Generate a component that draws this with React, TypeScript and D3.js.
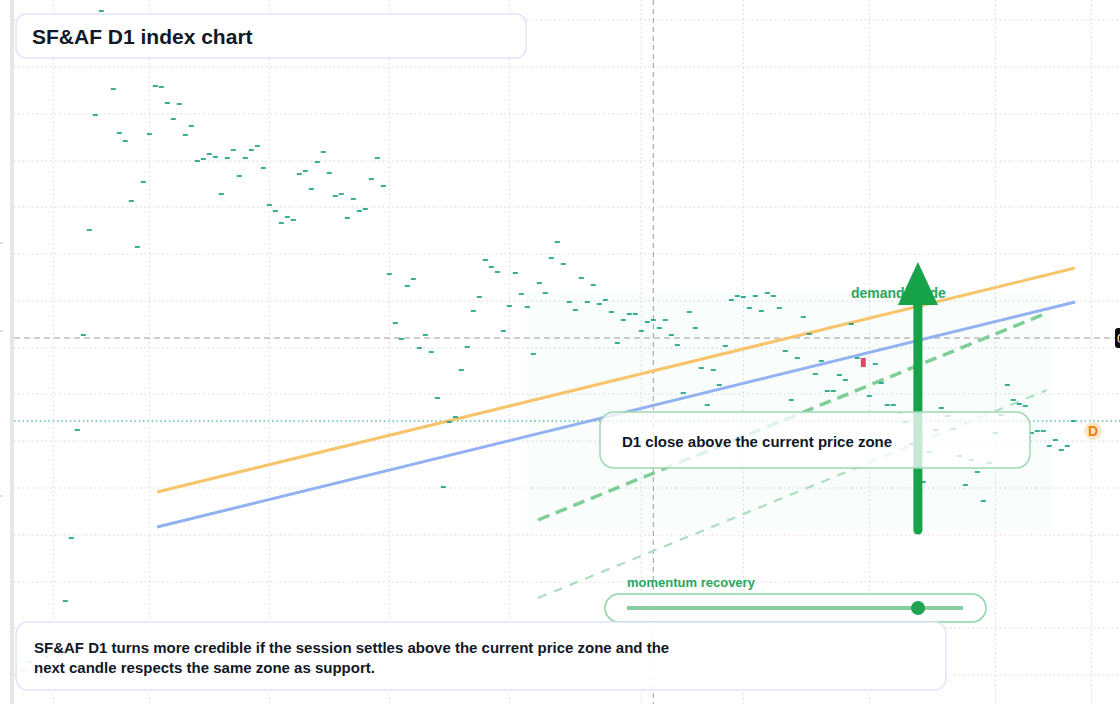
import React from "react";
import * as d3 from "d3";

// ---- data ----
const closes: number[] = [
  0.530, 0.538, 0.552, 0.524, 0.543, 0.535, 0.546, 0.599, 0.662, 0.770,
  0.865, 0.970, 1.085, 1.189, 1.160, 1.111, 1.067, 1.059, 0.999, 0.953,
  1.018, 1.066, 1.114, 1.113, 1.097, 1.081, 1.096, 1.065, 1.074, 1.039,
  1.041, 1.046, 1.043, 1.006, 1.042, 1.050, 1.024, 1.042, 1.050, 1.054,
  1.032, 0.995, 0.989, 0.977, 0.983, 0.980, 1.026, 1.029, 1.011, 1.038,
  1.048, 1.027, 1.004, 1.006, 0.982, 1.001, 0.989, 0.991, 1.021, 1.042,
  1.014, 0.926, 0.877, 0.861, 0.914, 0.921, 0.852, 0.865, 0.848, 0.802,
  0.713, 0.778, 0.783, 0.830, 0.853, 0.889, 0.903, 0.940, 0.933, 0.928,
  0.869, 0.894, 0.927, 0.906, 0.893, 0.846, 0.917, 0.907, 0.942, 0.958,
  0.936, 0.898, 0.890, 0.922, 0.898, 0.915, 0.896, 0.900, 0.888, 0.857,
  0.880, 0.886, 0.886, 0.869, 0.878, 0.880, 0.872, 0.880, 0.865, 0.855,
  0.807, 0.888, 0.872, 0.832, 0.795, 0.830, 0.815, 0.854, 0.900, 0.904,
  0.903, 0.892, 0.904, 0.889, 0.907, 0.904, 0.892, 0.849, 0.800, 0.842,
  0.883, 0.866, 0.826, 0.839, 0.809, 0.809, 0.825, 0.820, 0.876, 0.842,
  0.833, 0.804, 0.836, 0.817, 0.795, 0.795, 0.787, 0.778, 0.756, 0.760,
  0.718, 0.748, 0.770, 0.792, 0.784, 0.771, 0.744, 0.715, 0.740, 0.728,
  0.699, 0.737, 0.767, 0.785, 0.815, 0.800, 0.796, 0.794, 0.767, 0.769,
  0.769, 0.754, 0.760, 0.750, 0.754, 0.779,
];
const bearIndex = 140;
const bearOpen = 0.842;

const gridPrices: number[] = [1.180, 1.133, 1.086, 1.039, 0.993, 0.946, 0.899, 0.852, 0.806, 0.759, 0.712, 0.665, 0.618, 0.572, 0.525];
const gridIndices: number[] = [5, 21, 41, 61, 81, 103, 120, 141, 162, 178];
const axisTickPrices: number[] = [0.957, 0.869, 0.704];

const orangeLine = [{ i: 22.3, p: 0.708 }, { i: 175.3, p: 0.932 }];
const blueLine = [{ i: 22.3, p: 0.673 }, { i: 175.3, p: 0.898 }];
const greenDash = [{ i: 85.8, p: 0.680 }, { i: 170.6, p: 0.887 }];
const lightDash = [{ i: 85.8, p: 0.602 }, { i: 170.6, p: 0.810 }];
const zone = { i0: 83.9, i1: 171.4, p0: 0.908, p1: 0.668 };
const arrowGuide = { i: 149.1, from: 0.670, to: 0.938 };
const crosshair = { i: 105, p: 0.862 };
const lastPrice = 0.779;

const titleText = "SF&AF D1 index chart";
const noteLines = [
  "SF&AF D1 turns more credible if the session settles above the current price zone and the",
  "next candle respects the same zone as support.",
];
const calloutText = "D1 close above the current price zone";
const guideText = "demand guide";
const momentumText = "momentum recovery";

const W = 1120;
const H = 704;
const FONT = "'Liberation Sans', Arial, Helvetica, sans-serif";

export default function App() {
  const x = d3.scaleLinear().domain([0, 175]).range([23.3, 23.3 + 6 * 175]);
  const y = d3.scaleLinear().domain([1.2, 0.496]).range([0, 704]);
  const line = d3
    .line<{ i: number; p: number }>()
    .x((d) => x(d.i))
    .y((d) => y(d.p));

  const candleW = 5;
  const ax = x(arrowGuide.i);
  const tipY = y(arrowGuide.to);
  const headBase = tipY + 43;

  return (
    <div style={{ position: "fixed", left: 0, top: 0, width: W, height: H, overflow: "hidden", background: "#fff" }}>
      <svg width={W} height={H} style={{ display: "block", fontFamily: FONT }}>
        <rect x={0} y={0} width={W} height={H} fill="#ffffff" />
        {/* grid */}
        {gridPrices.map((p, k) => (
          <line key={"h" + k} x1={14} x2={W} y1={y(p)} y2={y(p)} stroke="#d4d4d4" strokeWidth={1} strokeDasharray="1.5 3" />
        ))}
        {gridIndices.map((i, k) => (
          <line key={"v" + k} x1={x(i)} x2={x(i)} y1={0} y2={H} stroke="#d4d4d4" strokeWidth={1} strokeDasharray="1.5 3" />
        ))}
        {/* left axis edge */}
        <rect x={10} y={0} width={4} height={H} fill="#e6e6e6" />
        {axisTickPrices.map((p, k) => (
          <line key={"t" + k} x1={0} x2={3} y1={y(p)} y2={y(p)} stroke="#bdbdbd" strokeWidth={1} />
        ))}
        {/* zone */}
        <rect
          x={x(zone.i0)}
          y={y(zone.p0)}
          width={x(zone.i1) - x(zone.i0)}
          height={y(zone.p1) - y(zone.p0)}
          rx={6}
          fill="#22c55e"
          fillOpacity={0.026}
        />
        {/* crosshair */}
        <line x1={14} x2={1116} y1={y(crosshair.p)} y2={y(crosshair.p)} stroke="#9b9b9b" strokeWidth={1} strokeDasharray="6 4" />
        <line x1={x(crosshair.i)} x2={x(crosshair.i)} y1={0} y2={H} stroke="#9b9b9b" strokeWidth={1} strokeDasharray="5 4" />
        {/* last price */}
        <line x1={14} x2={W} y1={y(lastPrice)} y2={y(lastPrice)} stroke="#089981" strokeWidth={1.2} strokeDasharray="1.5 2.8" />
        {/* trend lines */}
        <path d={line(orangeLine) || ""} stroke="#f7c46c" strokeWidth={3} fill="none" />
        <path d={line(blueLine) || ""} stroke="#91b1f2" strokeWidth={3} fill="none" />
        <path d={line(greenDash) || ""} stroke="#7fce98" strokeWidth={3.5} fill="none" strokeDasharray="12 7" />
        <path d={line(lightDash) || ""} stroke="#abdfbd" strokeWidth={2.2} fill="none" strokeDasharray="9 8" />
        {/* candles */}
        {closes.map((c, i) => {
          const isBear = i === bearIndex;
          const o = isBear ? bearOpen : c;
          const y0 = Math.min(y(o), y(c));
          const h = Math.max(1.6, Math.abs(y(o) - y(c)));
          return (
            <rect
              key={"c" + i}
              x={x(i) - candleW / 2}
              y={isBear ? y0 : y(c) - 0.8}
              width={candleW}
              height={h}
              fill={isBear ? "#ea4560" : "#089981"}
            />
          );
        })}
        {/* demand guide */}
        <text x={851} y={298} fontSize={14} fontWeight={700} fill="#2ba75c">{guideText}</text>
        {/* arrow */}
        <line x1={ax} x2={ax} y1={y(arrowGuide.from)} y2={headBase - 2} stroke="#16a34a" strokeWidth={9} strokeLinecap="round" />
        <path d={`M${ax},${tipY} L${ax + 20},${headBase} L${ax - 20},${headBase} Z`} fill="#16a34a" />
        {/* callout */}
        <rect x={600} y={412} width={430} height={56} rx={14} fill="#ffffff" fillOpacity={0.76} stroke="#9fd8b2" strokeWidth={1.5} />
        <text x={622} y={447} fontSize={15} fontWeight={700} fill="#111827">{calloutText}</text>
        {/* momentum */}
        <text x={627} y={587} fontSize={13} fontWeight={700} fill="#2ba75c">{momentumText}</text>
        <rect x={605} y={594} width={381} height={28} rx={14} fill="#ffffff" fillOpacity={0.85} stroke="#8fd3a6" strokeWidth={1.5} />
        <line x1={627} x2={963} y1={608} y2={608} stroke="#86cf9e" strokeWidth={4} />
        <circle cx={918} cy={608} r={7} fill="#22a352" />
        {/* title */}
        <rect x={16} y={14} width={510} height={44} rx={10} fill="#ffffff" stroke="#dbe6f8" strokeWidth={1.5} />
        <text x={32} y={43.5} fontSize={21} fontWeight={700} fill="#111827">{titleText}</text>
        {/* note */}
        <rect x={16} y={622} width={930} height={68} rx={12} fill="#ffffff" fillOpacity={0.9} stroke="#dbe6f8" strokeWidth={1.5} />
        {noteLines.map((t, k) => (
          <text key={"n" + k} x={34} y={653 + k * 20} fontSize={15} fontWeight={700} fill="#111827">{t}</text>
        ))}
        {/* price label */}
        <rect x={1115} y={y(crosshair.p) - 10} width={60} height={20} rx={3} fill="#0b0b0b" />
        <text x={1117} y={y(crosshair.p) + 4.5} fontSize={13} fill="#ffffff">{crosshair.p.toFixed(3)}</text>
        {/* D badge */}
        <circle cx={1093} cy={431} r={9} fill="#fde7cc" />
        <text x={1093} y={436} fontSize={14} fontWeight={700} fill="#f57c00" textAnchor="middle">D</text>
      </svg>
    </div>
  );
}
